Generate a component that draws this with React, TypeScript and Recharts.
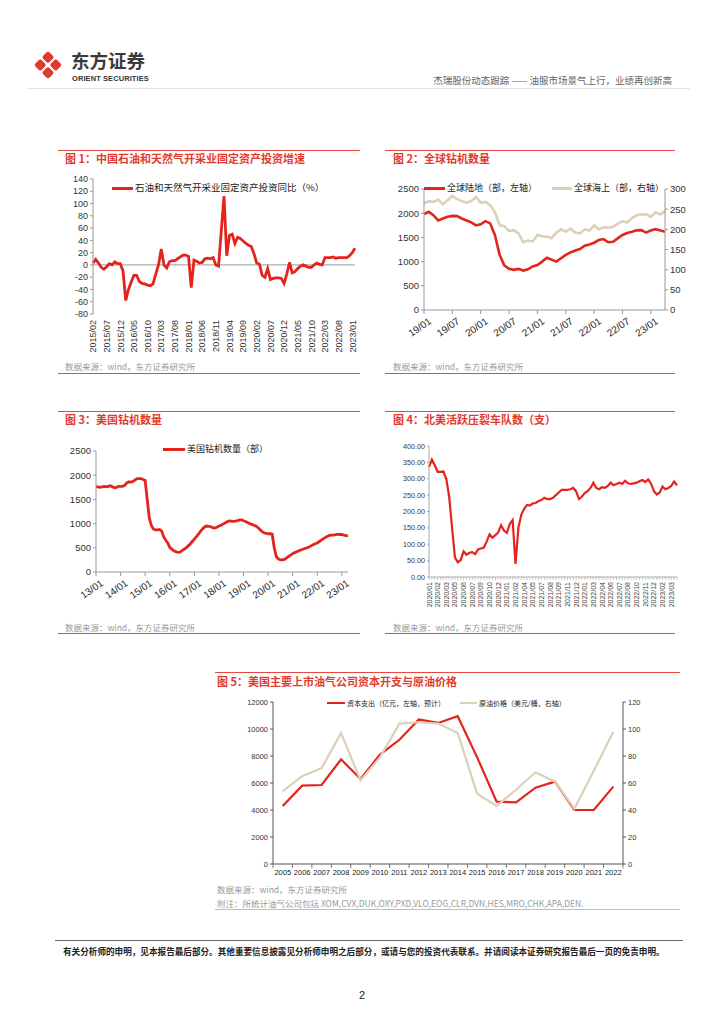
import React from 'react';
import { ComposedChart, Line, XAxis, YAxis, ReferenceLine } from 'recharts';

const RED = '#e4231c';
const BEIGE = '#dcd0b6';
const TITLE_RED = '#e23a2e';
const RULE_RED = '#e5493f';
const NUM_FONT = '"Liberation Sans", Arial, "Noto Sans CJK SC", sans-serif';
const CJK_FONT = '"Noto Sans CJK SC", "Liberation Sans", sans-serif';

function monthLabels(y0: number, m0: number, n: number, short: boolean) {
  const out: string[] = [];
  for (let k = 0; k < n; k++) {
    const t = m0 - 1 + k;
    const y = y0 + Math.floor(t / 12);
    const m = (t % 12) + 1;
    out.push(`${short ? String(y).slice(2) : y}/${String(m).padStart(2, '0')}`);
  }
  return out;
}

// ---------- Chart 1: 中国石油和天然气开采业固定资产投资增速 (2015/02 - 2023/02, monthly)
const c1Labels = monthLabels(2015, 2, 97, false);
const c1Values = [
  3, 9, 3, -4, -7, -3, 2, 0, 5, 2,
  2, -10, -58, -40, -28, -17, -17, -27, -30, -31,
  -33, -34, -31, -15, 0, 26, 0, -5, 5, 7,
  7, 10, 13, 16, 16, 14, -37, 8, 6, 3,
  4, 10, 11, 10, 12, 0, -2, 55, 112, 15,
  48, 50, 35, 45, 43, 39, 35, 32, 30, 18,
  3, 1, -17, -20, -6, -24, -22, -21, -21, -22,
  -30, -15, 4, -13, -11, -6, -2, 0, -2, -4,
  -4, 0, 3, 1, 0, 12, 12, 12, 13, 11,
  12, 12, 12, 12, 15, 20, 27,
];
const c1Ticks = [-80, -60, -40, -20, 0, 20, 40, 60, 80, 100, 120, 140];
const c1Data = c1Labels.map((label, i) => ({ label, v: c1Values[i] }));

// ---------- Chart 2: 全球钻机数量 (19/01 - 23/04)
const c2Labels = monthLabels(2019, 1, 52, true);
const c2Land = [
  1980, 2028, 1960, 1850, 1890, 1925, 1945, 1940, 1890, 1850,
  1810, 1750, 1770, 1835, 1790, 1550, 1140, 920, 850, 830,
  850, 815, 840, 900, 930, 1000, 1080, 1040, 1000, 1070,
  1140, 1190, 1230, 1260, 1330, 1355, 1390, 1445, 1465, 1400,
  1410, 1480, 1550, 1590, 1615, 1645, 1650, 1600, 1645, 1670,
  1645, 1615,
];
const c2Offshore = [
  264, 270, 268, 274, 262, 272, 283, 275, 270, 266,
  270, 280, 266, 268, 260, 243, 210, 208, 196, 198,
  190, 168, 172, 170, 186, 183, 182, 178, 192, 200,
  194, 202, 192, 190, 200, 197, 210, 200, 205, 204,
  206, 214, 220, 217, 228, 235, 237, 237, 231, 242,
  237, 245,
];
const c2LeftTicks = [0, 500, 1000, 1500, 2000, 2500];
const c2RightTicks = [0, 50, 100, 150, 200, 250, 300];
const c2Data = c2Labels.map((label, i) => ({ label, land: c2Land[i], off: c2Offshore[i] }));

// ---------- Chart 3: 美国钻机数量 (13/01 - 23/04)
const c3Labels = monthLabels(2013, 1, 124, true);
const c3Values = [
  1760, 1760, 1750, 1760, 1770, 1760, 1770, 1780, 1760, 1740, 1750, 1770,
  1770, 1770, 1790, 1840, 1860, 1860, 1870, 1900, 1930, 1930, 1930, 1910,
  1890, 1500, 1120, 960, 890, 870, 870, 880, 850, 730, 660, 600,
  510, 470, 440, 420, 405, 410, 440, 470, 500, 540, 580, 630,
  680, 730, 780, 840, 890, 930, 950, 945, 935, 915, 910, 925,
  950, 965, 990, 1010, 1040, 1055, 1050, 1045, 1050, 1060, 1075, 1075,
  1060, 1045, 1020, 1000, 985, 965, 950, 920, 880, 840, 810, 800,
  790, 790, 780, 500, 320, 270, 250, 250, 260, 290, 320, 350,
  380, 400, 420, 440, 455, 470, 485, 500, 515, 540, 565, 585,
  600, 630, 660, 690, 715, 740, 755, 760, 762, 770, 780, 775,
  775, 760, 750, 745,
];
const c3Ticks = [0, 500, 1000, 1500, 2000, 2500];
const c3Data = c3Labels.map((label, i) => ({ label, v: c3Values[i] }));

// ---------- Chart 4: 北美活跃压裂车队数（支）(bi-weekly, 2020/01 - 2023/03)
const c4TickLabels = [
  '2020/01', '2020/02', '2020/03', '2020/05', '2020/06', '2020/07', '2020/09', '2020/10', '2020/12',
  '2021/01', '2021/02', '2021/04', '2021/05', '2021/07', '2021/08', '2021/09', '2021/11', '2021/12',
  '2022/01', '2022/03', '2022/04', '2022/06', '2022/07', '2022/08', '2022/10', '2022/11', '2022/12',
  '2023/02', '2023/03',
];
const c4Values = [
  336, 358, 341, 321, 321, 322, 300, 245, 150, 60, 45, 52,
  78, 68, 74, 76, 70, 84, 87, 90, 108, 130, 120, 128, 136, 158, 142, 135, 162, 174,
  40, 150, 190, 208, 220, 218, 225, 226, 232, 235,
  242, 238, 238, 242, 250, 258, 266, 266, 266, 268,
  272, 262, 238, 245, 256, 262, 272, 288, 272, 268,
  274, 272, 278, 288, 280, 284, 288, 284, 294, 286,
  284, 286, 288, 292, 296, 290, 298, 285, 262, 252,
  258, 276, 268, 272, 278, 292, 280,
];
const c4Ticks = [0, 50, 100, 150, 200, 250, 300, 350, 400];
const c4Data = c4Values.map((v, i) => ({ i, v }));

// ---------- Chart 5: 美国主要上市油气公司资本开支与原油价格
const c5Years = [2005, 2006, 2007, 2008, 2009, 2010, 2011, 2012, 2013, 2014, 2015, 2016, 2017, 2018, 2019, 2020, 2021, 2022];
const c5Capex = [4300, 5800, 5850, 7750, 6300, 8100, 9200, 10700, 10450, 10950, 7900, 4620, 4570, 5650, 6100, 4000, 4000, 5730];
const c5Oil = [54, 65, 71, 97, 62, 79, 104, 105, 104, 97, 52, 43, 55, 68, 61, 41, 69, 98];
const c5LeftTicks = [0, 2000, 4000, 6000, 8000, 10000, 12000];
const c5RightTicks = [0, 20, 40, 60, 80, 100, 120];
const c5Data = c5Years.map((year, i) => ({ year, capex: c5Capex[i], oil: c5Oil[i] }));
const C5_PLOT_W = 350;
const C5_HALF = C5_PLOT_W / c5Years.length / 2;

// ---------- helpers
const T = ({ x, y, size, color = '#333', bold = false, font = CJK_FONT, children }: any) => (
  <div
    style={{
      position: 'absolute', left: x, top: y - size * 0.6, fontSize: size, lineHeight: `${size * 1.2}px`,
      color, fontWeight: bold ? 700 : 400, fontFamily: font, whiteSpace: 'nowrap',
    }}
  >
    {children}
  </div>
);

const HLine = ({ x1, x2, y, color, h = 1 }: any) => (
  <div style={{ position: 'absolute', left: x1, top: y, width: x2 - x1, height: h, background: color }} />
);

const LegendItem = ({ x, y, w, color, thick, text, size }: any) => (
  <>
    <div style={{ position: 'absolute', left: x, top: y - thick / 2, width: w, height: thick, background: color }} />
    <T x={x + w + 2} y={y} size={size} color="#222">{text}</T>
  </>
);

const VTick = (p: any) => {
  const { x, y, payload, fs, dy = 4 } = p;
  return (
    <text transform={`translate(${x + fs * 0.36},${y + dy}) rotate(-90)`} textAnchor="end" fontSize={fs} fill="#333" fontFamily={NUM_FONT}>
      {payload.value}
    </text>
  );
};

const DiagTick = (p: any) => {
  const { x, y, payload, fs } = p;
  return (
    <text transform={`translate(${x + 4},${y + 3}) rotate(-35)`} textAnchor="end" dy="0.7em" fontSize={fs} fill="#222" fontFamily={NUM_FONT}>
      {payload.value}
    </text>
  );
};

const C4Tick = (p: any) => {
  const { x, y, payload } = p;
  const i = Number(payload.value);
  const show = i % 3 === 0 && i / 3 < c4TickLabels.length;
  return (
    <g>
      <line x1={x} x2={x} y1={y} y2={y + 3} stroke="#aaa" strokeWidth={0.6} />
      {show && (
        <text transform={`translate(${x + 2.5},${y + 5}) rotate(-90)`} textAnchor="end" fontSize={7} fill="#444" fontFamily={NUM_FONT}>
          {c4TickLabels[i / 3]}
        </text>
      )}
    </g>
  );
};

const C5Tick = (p: any) => {
  const { x, y, payload, index } = p;
  const last = index === c5Years.length - 1;
  return (
    <g>
      <line x1={x - C5_HALF} x2={x - C5_HALF} y1={y} y2={y + 4} stroke="#555" strokeWidth={0.8} />
      {last && <line x1={x + C5_HALF} x2={x + C5_HALF} y1={y} y2={y + 4} stroke="#555" strokeWidth={0.8} />}
      <text x={x} y={y + 11} textAnchor="middle" fontSize={7.5} fill="#222" fontFamily={NUM_FONT}>
        {payload.value}
      </text>
    </g>
  );
};

const Logo = () => (
  <svg width={30} height={30} viewBox="0 0 30 30" style={{ position: 'absolute', left: 33, top: 50 }}>
    <g transform="rotate(45 15 15)">
      <rect x={5} y={5} width={9} height={9} rx={2.2} fill="#e03a2f" />
      <rect x={16} y={5} width={9} height={9} rx={2.2} fill="#e03a2f" />
      <rect x={5} y={16} width={9} height={9} rx={2.2} fill="#e03a2f" />
      <rect x={16} y={16} width={9} height={9} rx={2.2} fill="#e03a2f" />
    </g>
  </svg>
);

const yTick = (fs: number) => ({ fontSize: fs, fill: '#333', fontFamily: NUM_FONT });

export default function App() {
  return (
    <div style={{ position: 'absolute', left: 0, top: 0, width: 724, height: 1024, background: '#fff', overflow: 'hidden', fontFamily: CJK_FONT }}>
      {/* Header */}
      <Logo />
      <div style={{ position: 'absolute', left: 71, top: 51, fontSize: 18.5, lineHeight: '18px', fontWeight: 700, color: '#3a3a3a', whiteSpace: 'nowrap' }}>
        东方证券
      </div>
      <div style={{ position: 'absolute', left: 72, top: 75, fontSize: 7.4, lineHeight: '8px', fontWeight: 700, fontFamily: NUM_FONT, color: '#333', letterSpacing: 0.15, whiteSpace: 'nowrap' }}>
        ORIENT SECURITIES
      </div>
      <div style={{ position: 'absolute', right: 52, top: 74, fontSize: 9.5, lineHeight: '12px', color: '#666', whiteSpace: 'nowrap' }}>
        杰瑞股份动态跟踪 —— 油服市场景气上行，业绩再创新高
      </div>
      <HLine x1={27} x2={690} y={88} color="#e4e4e4" />

      {/* Section rules */}
      <HLine x1={58} x2={360} y={150} color={RULE_RED} />
      <HLine x1={385} x2={675} y={150} color={RULE_RED} />
      <HLine x1={58} x2={360} y={373} color={RULE_RED} />
      <HLine x1={385} x2={675} y={373} color={RULE_RED} />
      <HLine x1={58} x2={360} y={411} color={RULE_RED} />
      <HLine x1={385} x2={675} y={411} color={RULE_RED} />
      <HLine x1={58} x2={360} y={633} color={RULE_RED} />
      <HLine x1={385} x2={675} y={633} color={RULE_RED} />
      <HLine x1={215} x2={680} y={672} color={RULE_RED} />
      <HLine x1={215} x2={680} y={909} color="#f2a9a4" />

      {/* Titles */}
      <T x={65} y={159} size={11} bold color={TITLE_RED}>图 1：中国石油和天然气开采业固定资产投资增速</T>
      <T x={393} y={159} size={11} bold color={TITLE_RED}>图 2：全球钻机数量</T>
      <T x={65} y={420} size={11} bold color={TITLE_RED}>图 3：美国钻机数量</T>
      <T x={393} y={420} size={11} bold color={TITLE_RED}>图 4：北美活跃压裂车队数（支）</T>
      <T x={217} y={682} size={11} bold color={TITLE_RED}>图 5：美国主要上市油气公司资本开支与原油价格</T>

      {/* Sources */}
      <T x={65} y={366} size={8.5} color="#9a9a9a">数据来源：wind，东方证券研究所</T>
      <T x={393} y={366} size={8.5} color="#9a9a9a">数据来源：wind，东方证券研究所</T>
      <T x={65} y={627} size={8.5} color="#9a9a9a">数据来源：wind，东方证券研究所</T>
      <T x={393} y={627} size={8.5} color="#9a9a9a">数据来源：wind，东方证券研究所</T>
      <T x={217} y={889} size={8.5} color="#9a9a9a">数据来源：wind，东方证券研究所</T>
      <T x={217} y={903} size={8.5} color="#9a9a9a">附注：所统计油气公司包括 XOM,CVX,DUK,OXY,PXD,VLO,EOG,CLR,DVN,HES,MRO,CHK,APA,DEN.</T>

      {/* Chart 1 */}
      <div style={{ position: 'absolute', left: 60, top: 170 }}>
        <ComposedChart width={300} height={200} data={c1Data} margin={{ top: 9, right: 5, bottom: 0, left: 3 }}>
          <XAxis dataKey="label" interval={4} height={56} axisLine={false} tickLine={false} tickSize={0} tickMargin={0}
            tick={(p: any) => <VTick {...p} fs={9} dy={6} />} />
          <YAxis width={30} type="number" domain={[-80, 140]} ticks={c1Ticks} interval={0} tick={yTick(9)}
            axisLine={{ stroke: '#999' }} tickLine={{ stroke: '#999' }} tickSize={3} />
          <ReferenceLine y={0} stroke="#999" />
          <Line dataKey="v" stroke={RED} strokeWidth={2.8} dot={false} isAnimationActive={false} />
        </ComposedChart>
      </div>
      <LegendItem x={112} y={188} w={21} color={RED} thick={3} size={9.5} text="石油和天然气开采业固定资产投资同比（%）" />

      {/* Chart 2 */}
      <div style={{ position: 'absolute', left: 385, top: 170 }}>
        <ComposedChart width={310} height={170} data={c2Data} margin={{ top: 19, right: 5, bottom: 0, left: 5 }}>
          <XAxis dataKey="label" interval={5} height={30} axisLine={{ stroke: '#999' }} tickLine={{ stroke: '#999' }} tickSize={4} tickMargin={0}
            tick={(p: any) => <DiagTick {...p} fs={10} />} />
          <YAxis yAxisId="l" width={34} type="number" domain={[0, 2500]} ticks={c2LeftTicks} interval={0} tick={yTick(9.5)}
            axisLine={{ stroke: '#999' }} tickLine={{ stroke: '#999' }} tickSize={3} />
          <YAxis yAxisId="r" orientation="right" width={25} type="number" domain={[0, 300]} ticks={c2RightTicks} interval={0} tick={yTick(9.5)}
            axisLine={{ stroke: '#999' }} tickLine={{ stroke: '#999' }} tickSize={3} />
          <Line yAxisId="r" dataKey="off" stroke={BEIGE} strokeWidth={2.6} dot={false} isAnimationActive={false} />
          <Line yAxisId="l" dataKey="land" stroke={RED} strokeWidth={2.6} dot={false} isAnimationActive={false} />
        </ComposedChart>
      </div>
      <LegendItem x={424} y={188} w={21} color={RED} thick={3} size={9} text="全球陆地（部，左轴）" />
      <LegendItem x={552} y={188} w={20} color={BEIGE} thick={3} size={9} text="全球海上（部，右轴）" />

      {/* Chart 3 */}
      <div style={{ position: 'absolute', left: 55, top: 430 }}>
        <ComposedChart width={305} height={172} data={c3Data} margin={{ top: 21, right: 12, bottom: 0, left: 5 }}>
          <XAxis dataKey="label" interval={11} height={30} axisLine={{ stroke: '#999' }} tickLine={{ stroke: '#999' }} tickSize={4} tickMargin={0}
            tick={(p: any) => <DiagTick {...p} fs={10} />} />
          <YAxis width={36} type="number" domain={[0, 2500]} ticks={c3Ticks} interval={0} tick={yTick(9.5)}
            axisLine={{ stroke: '#999' }} tickLine={{ stroke: '#999' }} tickSize={3} />
          <Line dataKey="v" stroke={RED} strokeWidth={2.8} dot={false} isAnimationActive={false} />
        </ComposedChart>
      </div>
      <LegendItem x={163} y={449} w={22} color={RED} thick={3} size={9} text="美国钻机数量（部）" />

      {/* Chart 4 */}
      <div style={{ position: 'absolute', left: 385, top: 430, width: 295, height: 190, overflow: 'hidden' }}>
        <ComposedChart width={295} height={182} data={c4Data} margin={{ top: 16, right: 3, bottom: 0, left: 4 }}>
          <XAxis dataKey="i" interval={0} height={35} axisLine={{ stroke: '#aaa' }} tickLine={false} tickSize={0} tickMargin={0}
            tick={(p: any) => <C4Tick {...p} />} />
          <YAxis width={40} type="number" domain={[0, 400]} ticks={c4Ticks} interval={0} tick={yTick(7.2)}
            tickFormatter={(v: number) => v.toFixed(2)} axisLine={{ stroke: '#aaa' }} tickLine={{ stroke: '#aaa' }} tickSize={2} />
          <Line dataKey="v" stroke={RED} strokeWidth={2.2} dot={false} isAnimationActive={false} />
        </ComposedChart>
      </div>

      {/* Chart 5 */}
      <div style={{ position: 'absolute', left: 215, top: 690 }}>
        <ComposedChart width={470} height={194} data={c5Data} margin={{ top: 12, right: 12, bottom: 0, left: 8 }}>
          <XAxis dataKey="year" type="number" domain={[2004.5, 2022.5]} ticks={c5Years} interval={0} height={20}
            axisLine={{ stroke: '#555' }} tickLine={false} tickSize={0} tickMargin={0}
            tick={(p: any) => <C5Tick {...p} />} />
          <YAxis yAxisId="l" width={50} type="number" domain={[0, 12000]} ticks={c5LeftTicks} interval={0} tick={yTick(7.5)}
            axisLine={{ stroke: '#555' }} tickLine={{ stroke: '#555' }} tickSize={3} />
          <YAxis yAxisId="r" orientation="right" width={50} type="number" domain={[0, 120]} ticks={c5RightTicks} interval={0} tick={yTick(7.5)}
            axisLine={{ stroke: '#555' }} tickLine={{ stroke: '#555' }} tickSize={3} />
          <Line yAxisId="l" dataKey="capex" stroke={RED} strokeWidth={2.2} dot={false} isAnimationActive={false} />
          <Line yAxisId="r" dataKey="oil" stroke={BEIGE} strokeWidth={2.2} dot={false} isAnimationActive={false} />
        </ComposedChart>
      </div>
      <LegendItem x={327} y={703} w={18} color={RED} thick={2.5} size={7} text="资本支出（亿元，左轴，预计）" />
      <LegendItem x={460} y={703} w={17} color={BEIGE} thick={2.5} size={7} text="原油价格（美元/桶，右轴）" />

      {/* Footer */}
      <HLine x1={55} x2={683} y={940} color="#666" />
      <T x={63} y={951} size={8.6} bold color="#222">
        有关分析师的申明，见本报告最后部分。其他重要信息披露见分析师申明之后部分，或请与您的投资代表联系。并请阅读本证券研究报告最后一页的免责申明。
      </T>
      <T x={359} y={996} size={11} color="#222" font={NUM_FONT}>2</T>
    </div>
  );
}
